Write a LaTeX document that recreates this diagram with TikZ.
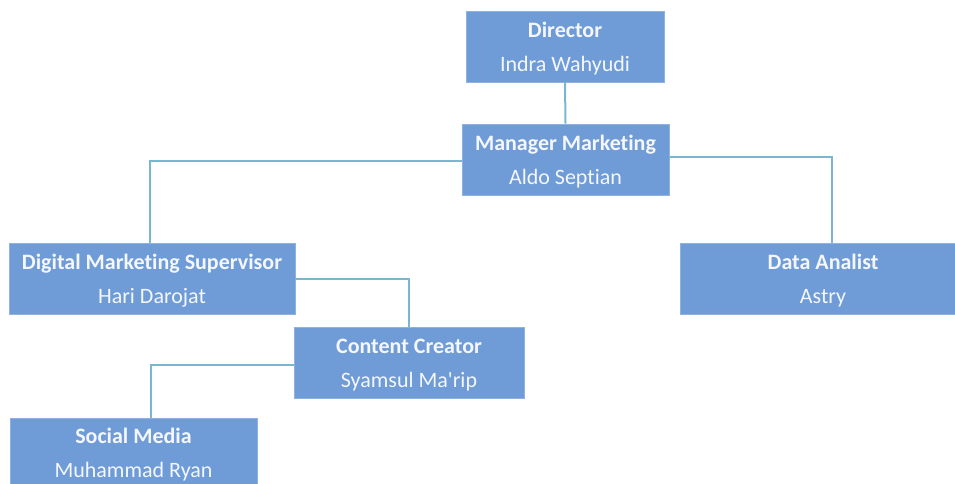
\documentclass[tikz,border=0pt]{standalone}
\usepackage{fontspec}
\setmainfont[Ligatures={NoCommon}]{Carlito}
\definecolor{boxfill}{HTML}{6F9BD7}
\definecolor{boxedge}{HTML}{8FB2E2}
\definecolor{linkc}{HTML}{78B8CE}
\definecolor{txt}{HTML}{F4F7FC}
\begin{document}
\begin{tikzpicture}[x=1pt,y=-1pt,
  orgbox/.style={rectangle, fill=boxfill, draw=boxedge, line width=0.8pt, inner sep=0pt,
    minimum height=71pt},
  orgtext/.style={inner sep=0pt, align=center, text=txt,
    font=\fontsize{22}{34}\selectfont},
  link/.style={draw=linkc, line width=2pt}]
\useasboundingbox (0,0) rectangle (955,484);
\begin{scope}
\clip (0,0) rectangle (955,484);
\node[orgbox, minimum width=198pt] (dir) at (565,46.5) {};
\node[orgbox, minimum width=207pt] (mgr) at (565.5,159.5) {};
\node[orgbox, minimum width=286pt] (dms) at (152,278.5) {};
\node[orgbox, minimum width=286pt] (da) at (823,278.5) {};
\node[orgbox, minimum width=230pt] (cc) at (409,362.5) {};
\node[orgbox, minimum width=247pt] (sm) at (133.5,453.5) {};
\node[orgtext] (dirT) at ([yshift=-2.5pt]dir.center) {\textbf{Director}\\Indra Wahyudi};
\node[orgtext] (mgrT) at ([yshift=-2.5pt]mgr.center) {\textbf{Manager Marketing}\\Aldo Septian};
\node[orgtext] (dmsT) at ([yshift=-2.5pt]dms.center) {\textbf{Digital Marketing Supervisor}\\Hari Darojat};
\node[orgtext] (daT) at ([yshift=-2.5pt]da.center) {\textbf{Data Analist}\\Astry};
\node[orgtext] (ccT) at ([yshift=-2.5pt]cc.center) {\textbf{Content Creator}\\Syamsul Ma\textquotesingle rip};
\node[orgtext] (smT) at ([yshift=-1.5pt]sm.center) {\textbf{Social Media}\\Muhammad Ryan};
\end{scope}
\draw[link] (dir.south) -- (mgr.north);
\draw[link] ([yshift=-1.5pt]mgr.west) -| ([xshift=-2pt]dms.north);
\draw[link] ([yshift=2.5pt]mgr.east) -| ([xshift=9pt]da.north);
\draw[link] (dms.east) -| (cc.north);
\draw[link] ([yshift=-2.5pt]cc.west) -| ([xshift=17pt]sm.north);
\end{tikzpicture}
\end{document}
